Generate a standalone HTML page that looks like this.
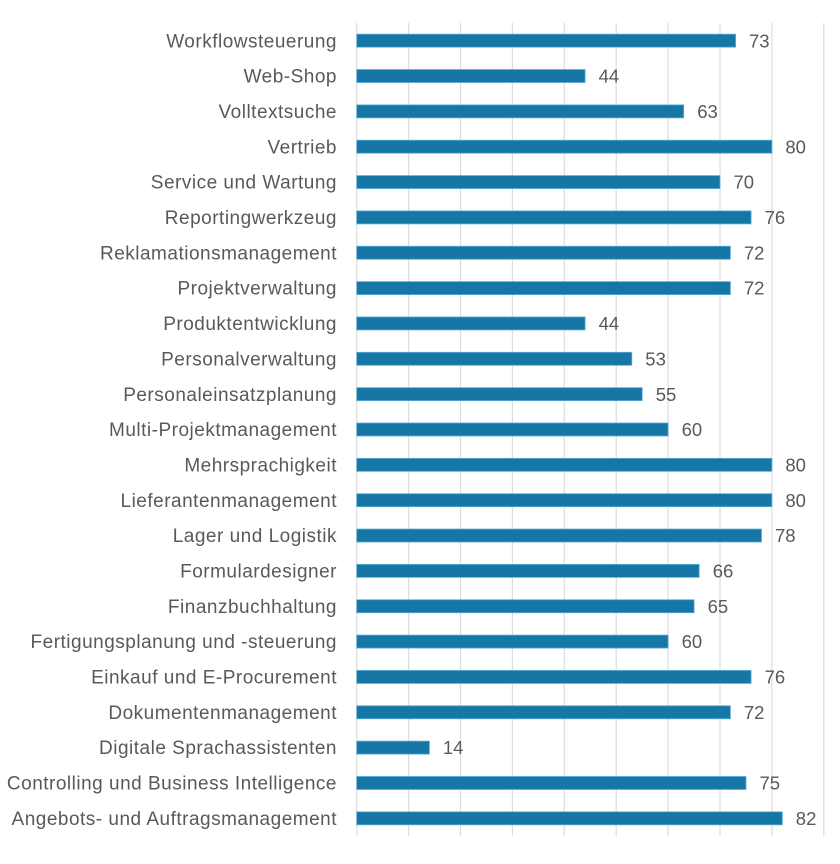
<!DOCTYPE html>
<html><head><meta charset="utf-8"><style>
html,body{margin:0;padding:0;background:#fff;}
svg{display:block;}
.l{font-family:"Liberation Sans",sans-serif;font-size:19px;letter-spacing:0.5px;fill:#595959;text-anchor:end;}
.v{font-family:"Liberation Sans",sans-serif;font-size:18.5px;fill:#595959;}
.b{fill:#1677a7;stroke:#5aaed6;stroke-width:0.8;}
</style></head><body>
<svg width="840" height="864" viewBox="0 0 840 864" xmlns="http://www.w3.org/2000/svg">
<rect width="840" height="864" fill="#fff"/>
<g stroke="#dcdcdc" stroke-width="1.2">
<line x1="356.7" y1="23" x2="356.7" y2="836"/>
<line x1="408.6" y1="23" x2="408.6" y2="836"/>
<line x1="460.5" y1="23" x2="460.5" y2="836"/>
<line x1="512.4" y1="23" x2="512.4" y2="836"/>
<line x1="564.3" y1="23" x2="564.3" y2="836"/>
<line x1="616.2" y1="23" x2="616.2" y2="836"/>
<line x1="668.1" y1="23" x2="668.1" y2="836"/>
<line x1="720" y1="23" x2="720" y2="836"/>
<line x1="771.9" y1="23" x2="771.9" y2="836"/>
<line x1="823.8" y1="23" x2="823.8" y2="836"/>
</g>
<g transform="translate(0,40.67)"><text class="l" x="337" y="6.6">Workflowsteuerung</text><rect class="b" x="356.7" y="-6.5" width="378.9" height="13"/><text class="v" x="749" y="6.6">73</text></g>
<g transform="translate(0,76.02)"><text class="l" x="337" y="6.6">Web-Shop</text><rect class="b" x="356.7" y="-6.5" width="228.4" height="13"/><text class="v" x="598.6" y="6.6">44</text></g>
<g transform="translate(0,111.37)"><text class="l" x="337" y="6.6">Volltextsuche</text><rect class="b" x="356.7" y="-6.5" width="327" height="13"/><text class="v" x="697.2" y="6.6">63</text></g>
<g transform="translate(0,146.72)"><text class="l" x="337" y="6.6">Vertrieb</text><rect class="b" x="356.7" y="-6.5" width="415.2" height="13"/><text class="v" x="785.4" y="6.6">80</text></g>
<g transform="translate(0,182.06)"><text class="l" x="337" y="6.6">Service und Wartung</text><rect class="b" x="356.7" y="-6.5" width="363.3" height="13"/><text class="v" x="733.5" y="6.6">70</text></g>
<g transform="translate(0,217.41)"><text class="l" x="337" y="6.6">Reportingwerkzeug</text><rect class="b" x="356.7" y="-6.5" width="394.4" height="13"/><text class="v" x="764.6" y="6.6">76</text></g>
<g transform="translate(0,252.76)"><text class="l" x="337" y="6.6">Reklamationsmanagement</text><rect class="b" x="356.7" y="-6.5" width="373.7" height="13"/><text class="v" x="743.9" y="6.6">72</text></g>
<g transform="translate(0,288.11)"><text class="l" x="337" y="6.6">Projektverwaltung</text><rect class="b" x="356.7" y="-6.5" width="373.7" height="13"/><text class="v" x="743.9" y="6.6">72</text></g>
<g transform="translate(0,323.46)"><text class="l" x="337" y="6.6">Produktentwicklung</text><rect class="b" x="356.7" y="-6.5" width="228.4" height="13"/><text class="v" x="598.6" y="6.6">44</text></g>
<g transform="translate(0,358.8)"><text class="l" x="337" y="6.6">Personalverwaltung</text><rect class="b" x="356.7" y="-6.5" width="275.1" height="13"/><text class="v" x="645.3" y="6.6">53</text></g>
<g transform="translate(0,394.15)"><text class="l" x="337" y="6.6">Personaleinsatzplanung</text><rect class="b" x="356.7" y="-6.5" width="285.5" height="13"/><text class="v" x="655.7" y="6.6">55</text></g>
<g transform="translate(0,429.5)"><text class="l" x="337" y="6.6">Multi-Projektmanagement</text><rect class="b" x="356.7" y="-6.5" width="311.4" height="13"/><text class="v" x="681.6" y="6.6">60</text></g>
<g transform="translate(0,464.85)"><text class="l" x="337" y="6.6">Mehrsprachigkeit</text><rect class="b" x="356.7" y="-6.5" width="415.2" height="13"/><text class="v" x="785.4" y="6.6">80</text></g>
<g transform="translate(0,500.2)"><text class="l" x="337" y="6.6">Lieferantenmanagement</text><rect class="b" x="356.7" y="-6.5" width="415.2" height="13"/><text class="v" x="785.4" y="6.6">80</text></g>
<g transform="translate(0,535.54)"><text class="l" x="337" y="6.6">Lager und Logistik</text><rect class="b" x="356.7" y="-6.5" width="404.8" height="13"/><text class="v" x="775" y="6.6">78</text></g>
<g transform="translate(0,570.89)"><text class="l" x="337" y="6.6">Formulardesigner</text><rect class="b" x="356.7" y="-6.5" width="342.5" height="13"/><text class="v" x="712.7" y="6.6">66</text></g>
<g transform="translate(0,606.24)"><text class="l" x="337" y="6.6">Finanzbuchhaltung</text><rect class="b" x="356.7" y="-6.5" width="337.4" height="13"/><text class="v" x="707.6" y="6.6">65</text></g>
<g transform="translate(0,641.59)"><text class="l" x="337" y="6.6">Fertigungsplanung und -steuerung</text><rect class="b" x="356.7" y="-6.5" width="311.4" height="13"/><text class="v" x="681.6" y="6.6">60</text></g>
<g transform="translate(0,676.94)"><text class="l" x="337" y="6.6">Einkauf und E-Procurement</text><rect class="b" x="356.7" y="-6.5" width="394.4" height="13"/><text class="v" x="764.6" y="6.6">76</text></g>
<g transform="translate(0,712.28)"><text class="l" x="337" y="6.6">Dokumentenmanagement</text><rect class="b" x="356.7" y="-6.5" width="373.7" height="13"/><text class="v" x="743.9" y="6.6">72</text></g>
<g transform="translate(0,747.63)"><text class="l" x="337" y="6.6">Digitale Sprachassistenten</text><rect class="b" x="356.7" y="-6.5" width="72.7" height="13"/><text class="v" x="442.9" y="6.6">14</text></g>
<g transform="translate(0,782.98)"><text class="l" x="337" y="6.6">Controlling und Business Intelligence</text><rect class="b" x="356.7" y="-6.5" width="389.3" height="13"/><text class="v" x="759.5" y="6.6">75</text></g>
<g transform="translate(0,818.33)"><text class="l" x="337" y="6.6">Angebots- und Auftragsmanagement</text><rect class="b" x="356.7" y="-6.5" width="425.6" height="13"/><text class="v" x="795.8" y="6.6">82</text></g>
</svg>
</body></html>
